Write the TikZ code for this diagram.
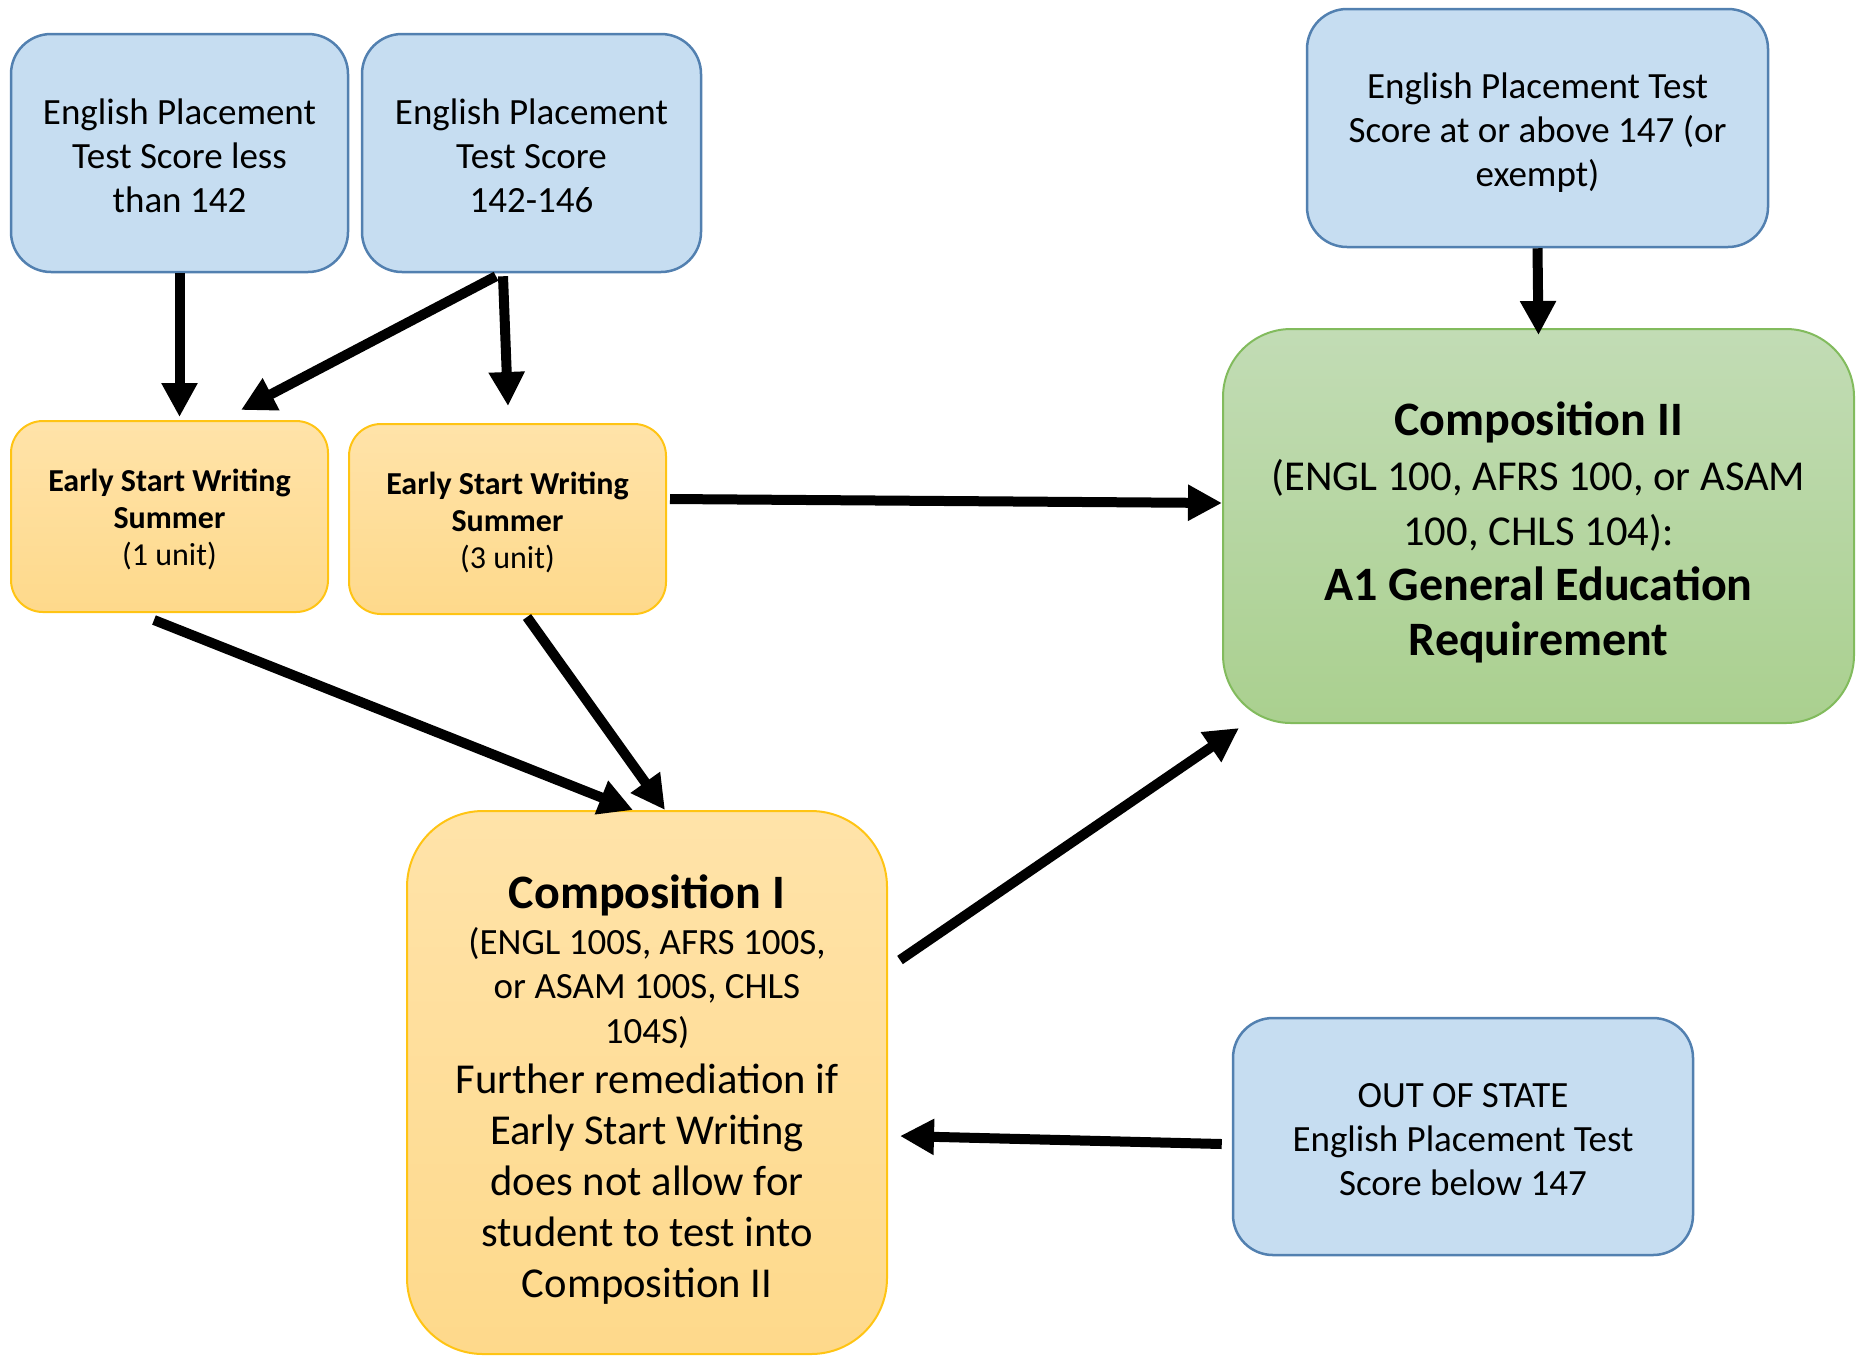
\documentclass[tikz,border=0pt]{standalone}
\usepackage{fontspec}
\setmainfont{Carlito}
\usetikzlibrary{arrows.meta,calc}
\definecolor{bluefill}{HTML}{C6DDF1}
\definecolor{bluedraw}{HTML}{5280B0}
\definecolor{orangetop}{HTML}{FFE3A9}
\definecolor{orangebot}{HTML}{FED98B}
\definecolor{orangedraw}{HTML}{FFC414}
\definecolor{greentop}{HTML}{C2DCB5}
\definecolor{greenbot}{HTML}{AAD08F}
\definecolor{greendraw}{HTML}{82BB5D}
\newcommand{\upstrut}[1]{\rule{0pt}{#1}}
\begin{document}
\begin{tikzpicture}[x=0.5pt,y=-0.5pt,
  bluebox/.style={draw=bluedraw, fill=bluefill, line width=1.25pt, rounded corners=20pt,
    align=center, inner sep=0pt, font=\fontsize{18.5}{22}\selectfont},
  orangebox/.style={draw=orangedraw, top color=orangetop, bottom color=orangebot, line width=1pt,
    rounded corners=16pt, align=center, inner sep=0pt},
  greenbox/.style={draw=greendraw, top color=greentop, bottom color=greenbot, line width=1pt,
    rounded corners=34pt, align=center, inner sep=0pt},
  arr/.style={line width=5pt, -{Triangle[length=17pt,width=17pt]}}
]
\useasboundingbox (0,0) rectangle (1862,1356);

\node[bluebox, minimum width=168.5pt, minimum height=119pt] (A) at (179.5,153)
  {\upstrut{15.3pt}English Placement\\Test Score less\\than 142};
\node[bluebox, minimum width=169.5pt, minimum height=119pt] (B) at (531.5,153)
  {\upstrut{15.3pt}English Placement\\Test Score\\142-146};
\node[bluebox, minimum width=230.5pt, minimum height=119pt] (C) at (1537.5,128)
  {\upstrut{17.8pt}English Placement Test\\Score at or above 147 (or\\exempt)};
\node[bluebox, minimum width=230pt, minimum height=118.5pt] (OS) at (1463,1136.5)
  {\upstrut{15.3pt}OUT OF STATE\\English Placement Test\\Score below 147};

\node[orangebox, minimum width=158.5pt, minimum height=95.5pt, font=\fontsize{16}{18.5}\selectfont] (ES1) at (169.5,516.5)
  {\upstrut{14.6pt}\textbf{Early Start Writing}\\\textbf{Summer}\\(1 unit)};
\node[orangebox, minimum width=158.5pt, minimum height=95pt, font=\fontsize{16}{18.5}\selectfont] (ES3) at (507.5,519)
  {\upstrut{14.6pt}\textbf{Early Start Writing}\\\textbf{Summer}\\(3 unit)};

\node[orangebox, rounded corners=38pt, minimum width=240pt, minimum height=271.5pt, font=\fontsize{18.5}{22.3}\selectfont] (CI) at (647,1082.5)
  {\upstrut{24pt}{\fontsize{24}{28}\selectfont\bfseries Composition I}\\[0.5pt]
   (ENGL 100S, AFRS 100S,\\
   or ASAM 100S, CHLS\\
   104S)\\[2.7pt]
   {\fontsize{21.3}{25.5}\selectfont Further remediation if}\\[3.2pt]
   {\fontsize{21.3}{25.5}\selectfont Early Start Writing}\\[3.2pt]
   {\fontsize{21.3}{25.5}\selectfont does not allow for}\\[3.2pt]
   {\fontsize{21.3}{25.5}\selectfont student to test into}\\[3.2pt]
   {\fontsize{21.3}{25.5}\selectfont Composition II}};

\node[greenbox, minimum width=315.5pt, minimum height=197pt, font=\fontsize{21.3}{27.5}\selectfont] (CII) at (1538.5,526)
  {\upstrut{23pt}{\fontsize{24}{28}\selectfont\bfseries Composition II}\\
   (ENGL 100, AFRS 100, or ASAM\\
   100, CHLS 104):\\
   {\fontsize{24}{28}\selectfont\bfseries A1 General Education}\\
   {\fontsize{24}{28}\selectfont\bfseries Requirement}};

\draw[arr] (A.south) -- ($(A.south |- ES1.north)+(0,-3)$);
\draw[arr] ($(B.south)+(-35.5,3)$) -- ($(ES1.north)+(71.5,-10)$);
\draw[arr] ($(B.south)+(-28.5,3)$) -- ($(ES3.north)+(0.5,-17)$);
\draw[arr] (C.south) -- ($(CII.north)+(0,7)$);
\draw[arr] ($(ES3.east)+(3,-20)$) -- ($(CII.west)+(0,-23)$);
\draw[arr] ($(ES1.south)+(-15.5,7)$) -- ($(CI.north)+(-14,0)$);
\draw[arr] ($(ES3.south)+(19.5,2)$) -- ($(CI.north)+(18,0)$);
\draw[arr] ($(CI.east)+(12,-122.5)$) -- ($(CII.south west)+(17,4)$);
\draw[arr] ($(OS.west)+(-10,7.5)$) -- ($(CI.east)+(12,53.5)$);
\end{tikzpicture}
\end{document}
